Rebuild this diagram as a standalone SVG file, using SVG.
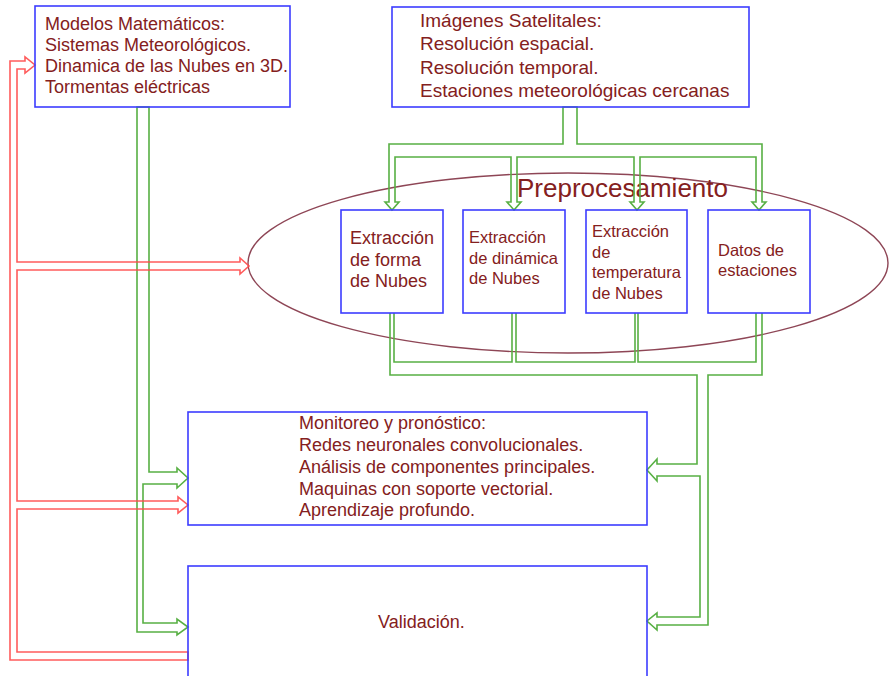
<svg xmlns="http://www.w3.org/2000/svg" width="889" height="676" viewBox="0 0 889 676">
<style>
.box{fill:none;stroke:#3c3cff;stroke-width:1.6}
.t{font-family:"Liberation Sans",Arial,sans-serif;fill:#842020}
.g{fill:none;stroke:#58b044;stroke-width:1.6;stroke-linejoin:miter}
.r{fill:none;stroke:#ff4a4a;stroke-width:1.6;stroke-opacity:0.9}
</style>
<rect width="889" height="676" fill="#fff"/>
<g id="preprocesamiento">
<ellipse cx="568" cy="263" rx="320" ry="90" fill="none" stroke="#8e4656" stroke-width="1.4"/>
<text class="t" x="517" y="197" font-size="26">Preprocesamiento</text>
</g>
<g id="connectors">
<path class="g" d="M563,107 V144 H389 V202 H385 L392,210 L399,202 H395 V157 H511 V202 H507 L514,210 L521,202 H517 V157 H634 V202 H630 L637,210 L644,202 H640 V157 H756 V202 H752 L759,210 L766,202 H762 V144 H577 V107 Z"/>
<path class="g" d="M390,313 V375 H697 V464 H657 V459 L647,470 L657,481 V476 H700 V617 H657 V613 L647,621 L657,630 V625 H708 V375 H762 V313 M756,313 V362 H638 V313 M635,313 V362 H516 V313 M512,313 V362 H394 V313"/>
<path class="g" d="M137,107 V632 H177 V635 L188,627 L177,619 V623 H143 V484 H177 V488 L188,478 L177,468 V472 H149 V107 Z"/>
<path class="r" d="M188,660 H10 V61 H25 V57 L35,65 L25,73 V69 H17 V262 H240 V258 L249,266 L240,274 V270 H17 V501 H178 V497 L188,505 L178,513 V509 H17 V652 H188 Z"/>
</g>
<g id="modelos">
<rect class="box" x="35" y="6" width="255" height="101"/>
<text class="t" font-size="18"><tspan x="45" y="30">Modelos Matemáticos:</tspan><tspan x="45" y="51">Sistemas Meteorológicos.</tspan><tspan x="45" y="72">Dinamica de las Nubes en 3D.</tspan><tspan x="45" y="93">Tormentas eléctricas</tspan></text>
</g>
<g id="imagenes">
<rect class="box" x="392" y="7" width="357" height="100"/>
<text class="t" font-size="19"><tspan x="420" y="27">Imágenes Satelitales:</tspan><tspan x="420" y="50">Resolución espacial.</tspan><tspan x="420" y="74">Resolución temporal.</tspan><tspan x="420" y="97">Estaciones meteorológicas cercanas</tspan></text>
</g>
<g id="forma">
<rect class="box" x="341" y="210" width="102" height="103"/>
<text class="t" font-size="18"><tspan x="350" y="244">Extracción</tspan><tspan x="350" y="266">de forma</tspan><tspan x="350" y="287">de Nubes</tspan></text>
</g>
<g id="dinamica">
<rect class="box" x="463" y="210" width="102" height="103"/>
<text class="t" font-size="16.5"><tspan x="469" y="243">Extracción</tspan><tspan x="469" y="264">de dinámica</tspan><tspan x="469" y="284">de Nubes</tspan></text>
</g>
<g id="temperatura">
<rect class="box" x="586" y="210" width="101" height="103"/>
<text class="t" font-size="16.5"><tspan x="592" y="237">Extracción</tspan><tspan x="592" y="258">de</tspan><tspan x="592" y="278">temperatura</tspan><tspan x="592" y="299">de Nubes</tspan></text>
</g>
<g id="estaciones">
<rect class="box" x="708" y="210" width="102" height="103"/>
<text class="t" font-size="16.5"><tspan x="718" y="256">Datos de</tspan><tspan x="718" y="276">estaciones</tspan></text>
</g>
<g id="monitoreo">
<rect class="box" x="188" y="412" width="459" height="113"/>
<text class="t" font-size="18"><tspan x="299" y="429">Monitoreo y pronóstico:</tspan><tspan x="299" y="451">Redes neuronales convolucionales.</tspan><tspan x="299" y="473">Análisis de componentes principales.</tspan><tspan x="299" y="495">Maquinas con soporte vectorial.</tspan><tspan x="299" y="516">Aprendizaje profundo.</tspan></text>
</g>
<g id="validacion">
<rect class="box" x="188" y="566" width="459" height="130"/>
<text class="t" font-size="18" x="378" y="628">Validación.</text>
</g>
</svg>
